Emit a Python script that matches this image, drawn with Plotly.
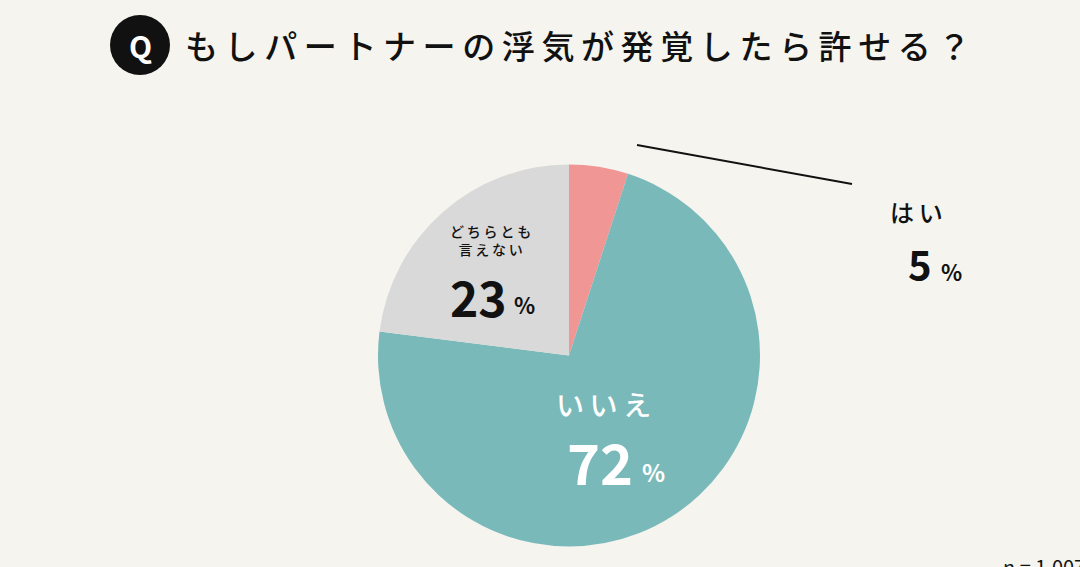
import plotly.graph_objects as go

# données
labels = ["はい", "いいえ", "どちらとも言えない"]
label_lines = [["はい"], ["いいえ"], ["どちらとも", "言えない"]]
values = [5, 72, 23]
colors = ["#f09795", "#79b9b9", "#d9d9d9"]
title = "もしパートナーの浮気が発覚したら許せる？"
n_text = "n = 1,007"

W, H = 1080, 567
BG = "#f5f4ef"
JP = "Noto Sans CJK JP"


def px(x, y):
    # pixels de la page -> coordonnees paper
    return x / W, 1 - y / H


def spaced(s, sep="\u2009"):
    # espacement entre les lettres
    return sep.join(list(s))


fig = go.Figure()

cx, cy, r = 569, 355.5, 191
x0, y0 = px(cx - r, cy + r)
x1, y1 = px(cx + r, cy - r)
fig.add_trace(go.Pie(
    labels=labels,
    values=values,
    marker=dict(colors=colors, line=dict(width=0)),
    sort=False,
    direction="clockwise",
    rotation=0,
    textinfo="none",
    hoverinfo="label+percent",
    showlegend=False,
    domain=dict(x=[x0, x1], y=[y0, y1]),
))

annots = []


def add_text(x, y, text, size, color="#111111", bold=False, xanchor="center", weight=None):
    ax, ay = px(x, y)
    t = "<b>" + text + "</b>" if bold else text
    f = dict(family=JP, size=size, color=color)
    if weight:
        f["weight"] = weight
    annots.append(dict(x=ax, y=ay, xref="paper", yref="paper", text=t,
                       showarrow=False, xanchor=xanchor, yanchor="middle", font=f))


# titre
add_text(577, 45, spaced(title), 33, weight=500)
add_text(140, 45, "Q", 30, color="white", bold=True)

# étiquettes
pos = [(916, 211), (603, 404), (490, 240)]
num_pos = [(920, 263), (600, 460), (478, 296)]
pct_pos = [(951, 271), (653, 471), (524, 304)]
num_size = [40, 56, 48]
lab_size = [24, 28, 14]
pct_size = [22, 24, 22]
txt_color = ["#111111", "white", "#111111"]
for i in range(len(values)):
    lab = "<br>".join(spaced(s) for s in label_lines[i])
    add_text(pos[i][0], pos[i][1], lab, lab_size[i], color=txt_color[i], weight=500)
    add_text(num_pos[i][0], num_pos[i][1], str(values[i]), num_size[i], color=txt_color[i], bold=True)
    add_text(pct_pos[i][0], pct_pos[i][1], "%", pct_size[i], color=txt_color[i], bold=True)

add_text(1001, 566, n_text, 20, xanchor="left")

qx0, qy0 = px(110, 75)
qx1, qy1 = px(170, 15)
lx0, ly0 = px(637, 145)
lx1, ly1 = px(852, 184)
fig.update_layout(
    width=W, height=H,
    margin=dict(l=0, r=0, t=0, b=0),
    paper_bgcolor=BG,
    plot_bgcolor=BG,
    annotations=annots,
    shapes=[
        dict(type="circle", xref="paper", yref="paper", x0=qx0, y0=qy0, x1=qx1, y1=qy1,
             fillcolor="#111111", line=dict(width=0)),
        dict(type="line", xref="paper", yref="paper", x0=lx0, y0=ly0, x1=lx1, y1=ly1,
             line=dict(color="#111111", width=2)),
    ],
)

fig.write_html("out.html", config={"displayModeBar": False},
               post_script="document.body.style.margin='0';")
